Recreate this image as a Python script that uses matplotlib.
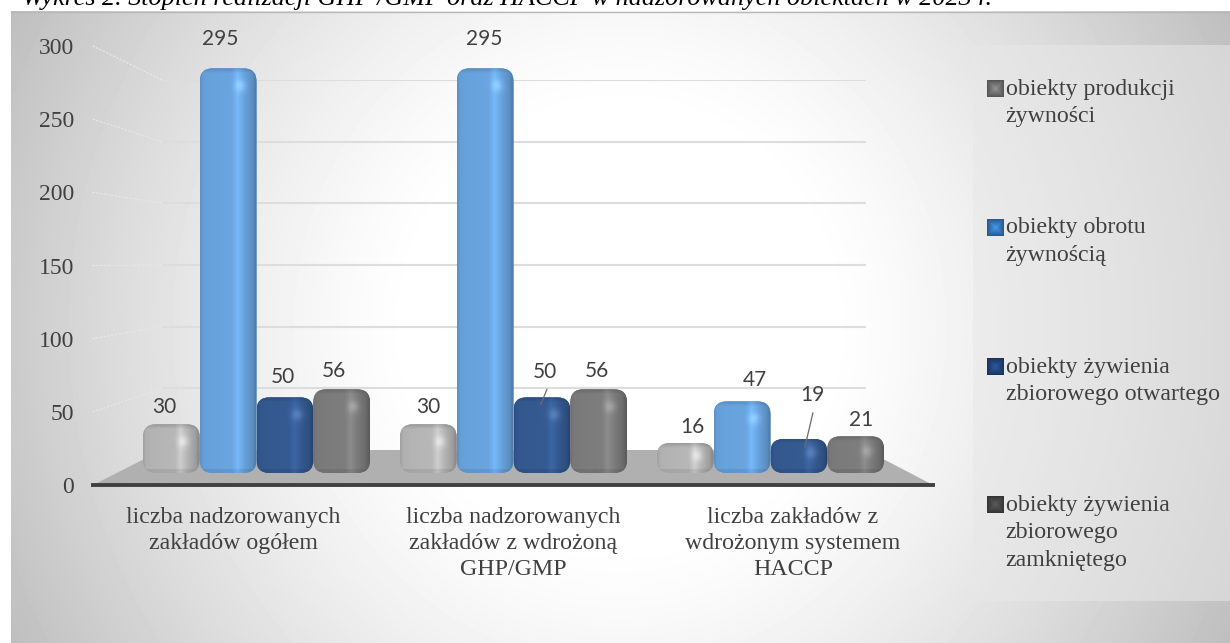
import numpy as np
import matplotlib
matplotlib.use("Agg")
import matplotlib.pyplot as plt
from matplotlib.colors import to_rgb
from matplotlib.patches import FancyBboxPatch, Polygon, Rectangle, ConnectionPatch
from matplotlib.transforms import IdentityTransform

W, H = 1230, 643
SERIF = "Liberation Serif"
LABEL_FONT = "Lato"
TEXT = "#404040"

title = "Wykres 2. Stopień realizacji GHP /GMP oraz HACCP w nadzorowanych obiektach w 2023 r."
categories = ["liczba nadzorowanych\nzakładów ogółem",
              "liczba nadzorowanych\nzakładów z wdrożoną\nGHP/GMP",
              "liczba zakładów z\nwdrożonym systemem\nHACCP"]
series_names = ["obiekty produkcji\nżywności",
                "obiekty obrotu\nżywnością",
                "obiekty żywienia\nzbiorowego otwartego",
                "obiekty żywienia\nzbiorowego\nzamkniętego"]
produkcja = [30, 30, 16]
obrot = [295, 295, 47]
otwarte = [50, 50, 19]
zamkniete = [56, 56, 21]
series_values = [produkcja, obrot, otwarte, zamkniete]
y_ticks = [0, 50, 100, 150, 200, 250, 300]

bar_colors = ["#b4b4b4", "#68a2dc", "#34598f", "#7b7b7b"]
legend_colors = ["#666666", "#2f6aa6", "#1e3d70", "#3f3f3f"]

# label offsets in pixels from the top centre of each bar (series x category)
label_offsets = [[(-7, 17), (0, 17), (7, 16)],
                 [(-8, 29), (-1, 29), (13, 21)],
                 [(-2, 20), (3, 25), (13, 44)],
                 [(-8, 18), (-2, 18), (5, 16)]]
# leader lines: (series, category): (label end, bar end) offsets in pixels
leaders = {(2, 1): ((5, 8), (-1, -7)), (2, 2): ((14, 26), (6, -8))}


def axes_px(x0, y_top, x1, y_bottom, **kw):
    return fig.add_axes([x0 / W, 1 - y_bottom / H, (x1 - x0) / W, (y_bottom - y_top) / H], **kw)


fig = plt.figure(figsize=(W / 100, H / 100), dpi=100, facecolor="white")

# ---- background, floor and legend panel (pixel overlay) ----
bg = axes_px(0, 0, W, H, zorder=0)
bg.set_xlim(0, W)
bg.set_ylim(H, 0)
bg.axis("off")
px, py = np.meshgrid(np.arange(11, W) + .5, np.arange(11, H) + .5)
dx, dy = (px - 620) / 610, (py - 327) / 316
d = np.sqrt(dx ** 2 + 0.25 * dy ** 2) / np.sqrt(1.25)
s = np.clip((d - .3) / .7, 0, 1)
grad = (255 - 65 * s ** 1.3) / 255
bg.imshow(grad, cmap="gray", vmin=0, vmax=1, extent=(11, W, H, 11), aspect="auto", interpolation="bilinear")
bg.set_xlim(0, W)
bg.set_ylim(H, 0)
bg.plot([11, W], [11.5, 11.5], color="#b8b8b8", lw=1)
bg.add_patch(Polygon([(93, 485), (162, 450), (866, 450), (933, 485)], closed=True, fc="#b0b0b0", ec="none"))
bg.add_patch(Rectangle((973, 45), W - 973, 556, fc="#e8e8e8", ec="none", alpha=.55))
bg.text(22, 5.5, title, family=SERIF, style="italic", fontsize=18.8, color="black", va="baseline", ha="left")

# ---- back wall with gridlines ----
wall = axes_px(162, 80, 866, 450, zorder=1)
wall.patch.set_alpha(0)
wall.set_xlim(0, 1)
wall.set_ylim(0, 300)
wall.set_yticks(y_ticks[1:])
wall.set_xticks([])
wall.tick_params(left=False, labelleft=False)
wall.grid(axis="y", color="#dedcde", lw=1.5)
wall.set_axisbelow(True)
for sp in wall.spines.values():
    sp.set_visible(False)

# ---- front frame: value labels, category labels, axis line ----
front = axes_px(93, 46, 933, 485, zorder=2)
front.patch.set_alpha(0)
front.set_xlim(0, 3)
front.set_ylim(0, 300)
front.set_yticks(y_ticks)
front.set_yticklabels([str(t) for t in y_ticks], family=SERIF, fontsize=17, color=TEXT)
front.set_xticks([.5, 1.5, 2.5])
front.set_xticklabels(categories, family=SERIF, fontsize=17.2, color=TEXT, linespacing=1.33)
front.tick_params(axis="y", length=0, pad=13.7)
front.tick_params(axis="x", length=0, pad=15.5)
for name, sp in front.spines.items():
    sp.set_visible(name == "bottom")
front.spines["bottom"].set_color("#404040")
front.spines["bottom"].set_linewidth(2.8)

for t in y_ticks[1:]:
    c = ConnectionPatch((0, t), (0, t), "data", "data", axesA=front, axesB=wall,
                        color="#e6e6e6", lw=.9, ls=(0, (1.2, 1.8)), zorder=2)
    fig.add_artist(c)

# ---- bars ----
GROUP_PX = 257.0
BAR_PX = 56.8
X0_PX = 256.5 - .5 * GROUP_PX
ax = axes_px(X0_PX, 0, X0_PX + 3 * GROUP_PX, 473, zorder=3)
ax.patch.set_alpha(0)
ax.axis("off")
PX_PER_UNIT = 1.343
floor = -(473 - 464.5) / PX_PER_UNIT
xlim, ylim = (0, 3), (floor, floor + 473 / PX_PER_UNIT)
ax.set_xlim(xlim)
ax.set_ylim(ylim)
width = BAR_PX / GROUP_PX


def shading(color, w, h):
    rgb = np.array(to_rgb(color))
    u = (np.arange(w) + .5) / w
    t = np.arange(h) + .5
    hor = np.interp(u, [0, .06, .2, .56, .66, .78, .92, 1], [.88, .98, 1.0, 1.02, 1.14, 1.0, .88, .72])
    ver = np.where(t < 5, .84 + .032 * t, 1.0)
    ver = ver * np.where(t > h - 4, .92, 1.0)
    img = rgb[None, None, :] * (hor[None, :] * ver[:, None])[:, :, None]
    # soft glint under the bevel
    yy, xx = np.mgrid[0:h, 0:w]
    glint = np.exp(-((xx - .7 * w) / (.1 * w)) ** 2 - ((yy - min(17, h * .4)) / 6.0) ** 2)
    img = img + .12 * glint[:, :, None]
    return np.clip(img, 0, 1)


fig.canvas.draw()
for si, (vals, col) in enumerate(zip(series_values, bar_colors)):
    xs = np.arange(3) + .5 + (si - 1.5) * width
    cont = ax.bar(xs, np.array(vals) - floor, bottom=floor, width=width, color=col, linewidth=0, zorder=3 + si)
    for ci, rect in enumerate(cont):
        bb = rect.get_window_extent()
        r = 13
        clip = FancyBboxPatch((bb.x0 + r, bb.y0 + r), bb.width - 2 * r, bb.height - 2 * r,
                              boxstyle=f"round,pad={r},rounding_size={r}",
                              transform=IdentityTransform(), fc="none", ec="none")
        rect.set_clip_path(clip)
        xa, ya = rect.get_x(), rect.get_y()
        im = ax.imshow(shading(col, int(round(bb.width)), int(round(bb.height))),
                       extent=(xa, xa + rect.get_width(), ya, ya + rect.get_height()),
                       origin="upper", aspect="auto", interpolation="bilinear", zorder=3 + si)
        im.set_clip_path(clip)
        top = (xs[ci], vals[ci])
        ax.annotate(str(vals[ci]), xy=top, xytext=label_offsets[si][ci], textcoords="offset pixels",
                    ha="center", va="center", family=LABEL_FONT, fontsize=15, color=TEXT, zorder=20)
        if (si, ci) in leaders:
            a, b = leaders[(si, ci)]
            tr = ax.transData.transform(top)
            q = ax.transData.inverted().transform(np.array([tr + a, tr + b]))
            ax.plot(q[:, 0], q[:, 1], color="#6a6a6a", lw=.9, zorder=20)
ax.set_xlim(xlim)
ax.set_ylim(ylim)

# ---- legend ----
leg_y = [89, 228, 367, 505]
for name, col, y0 in zip(series_names, legend_colors, leg_y):
    rgb = np.array(to_rgb(col))
    n = 17
    yy, xx = np.mgrid[0:n, 0:n]
    e = np.maximum(abs(xx - 8), abs(yy - 8)) / 8
    img = np.clip(rgb[None, None, :] * (1.45 - .6 * e)[:, :, None], 0, 1)
    bg.imshow(img, extent=(987, 1004, y0 + 8, y0 - 9), aspect="auto", interpolation="bilinear", zorder=5)
    for k, line in enumerate(name.split("\n")):
        bg.text(1005.5, y0 + k * 27.6, line, family=SERIF, fontsize=17.2, color=TEXT, va="center", ha="left", zorder=6)
bg.set_xlim(0, W)
bg.set_ylim(H, 0)

fig.savefig("out.png", dpi=100, facecolor="white")
